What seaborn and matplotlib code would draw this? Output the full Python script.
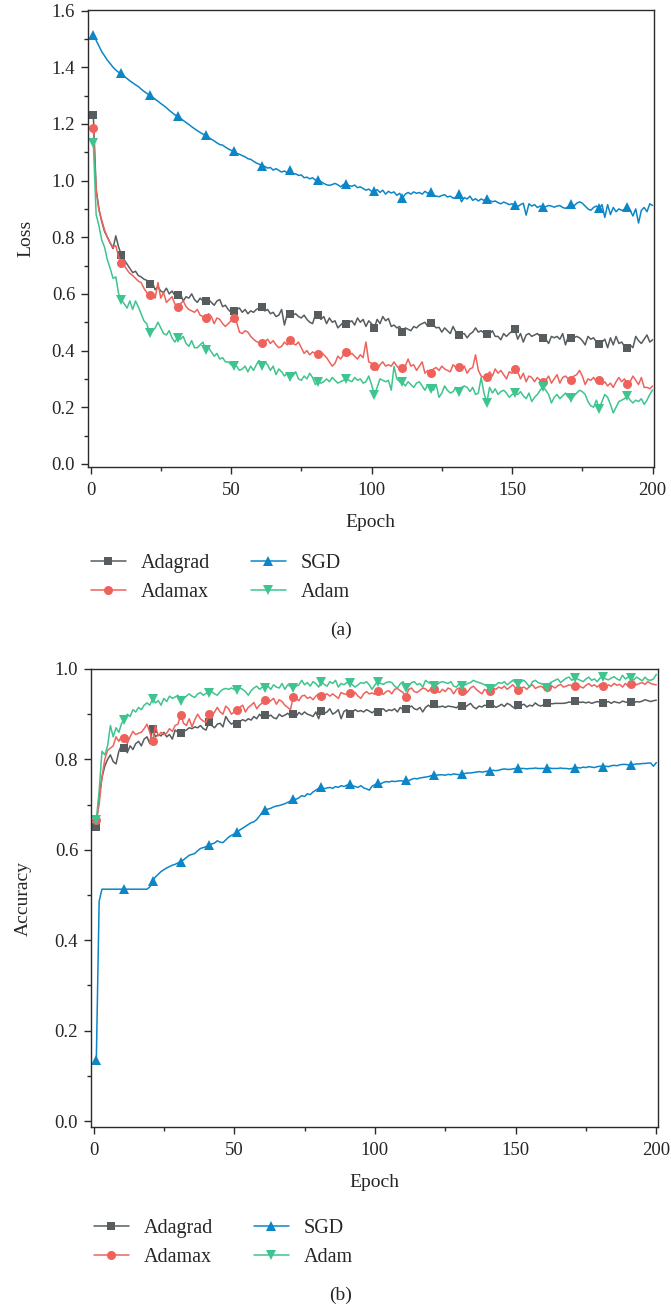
import numpy as np
import pandas as pd
import matplotlib
matplotlib.use("Agg")
import matplotlib.pyplot as plt
from matplotlib.ticker import MultipleLocator
import seaborn as sns

# ---------------------------------------------------------------- data
epochs = list(range(1, 201))
optimizers = ["Adagrad", "Adamax", "SGD", "Adam"]

loss_sgd = [
    1.515, 1.495, 1.475, 1.455, 1.44, 1.425, 1.413, 1.40, 1.39, 1.382,
    1.378, 1.368, 1.36, 1.352, 1.345, 1.338, 1.332, 1.323, 1.315, 1.308,
    1.302, 1.295, 1.287, 1.28, 1.272, 1.265, 1.257, 1.248, 1.24, 1.232,
    1.227, 1.22, 1.212, 1.205, 1.198, 1.19, 1.183, 1.176, 1.17, 1.164,
    1.16, 1.152, 1.146, 1.14, 1.133, 1.127, 1.125, 1.118, 1.112, 1.107,
    1.104, 1.096, 1.093, 1.088, 1.084, 1.077, 1.075, 1.068, 1.062, 1.058,
    1.052, 1.05, 1.044, 1.046, 1.037, 1.042, 1.036, 1.03, 1.034, 1.027,
    1.036, 1.022, 1.024, 1.018, 1.02, 1.01, 1.012, 1.006, 1.01, 1.002,
    1.003, 0.996, 0.99, 0.985, 0.983, 0.986, 0.99, 0.985, 0.978, 0.986,
    0.988, 0.982, 0.98, 0.984, 0.975, 0.978, 0.972, 0.966, 0.97, 0.962,
    0.962, 0.968, 0.958, 0.966, 0.952, 0.962, 0.956, 0.96, 0.948, 0.955,
    0.938, 0.952, 0.958, 0.952, 0.96, 0.955, 0.958, 0.952, 0.962, 0.955,
    0.958, 0.948, 0.945, 0.943, 0.947, 0.95, 0.942, 0.945, 0.938, 0.94,
    0.952, 0.925, 0.94, 0.935, 0.945, 0.93, 0.936, 0.928, 0.935, 0.93,
    0.936, 0.93, 0.925, 0.928, 0.922, 0.918, 0.924, 0.92, 0.915, 0.918,
    0.912, 0.908, 0.915, 0.92, 0.878, 0.918, 0.91, 0.915, 0.905, 0.91,
    0.905, 0.908, 0.912, 0.91, 0.906, 0.91, 0.912, 0.905, 0.902, 0.908,
    0.918, 0.91, 0.92, 0.925, 0.92, 0.91, 0.90, 0.895, 0.905, 0.91,
    0.902, 0.915, 0.87, 0.915, 0.88, 0.905, 0.89, 0.90, 0.895, 0.898,
    0.905, 0.895, 0.875, 0.90, 0.85, 0.895, 0.905, 0.89, 0.918, 0.912,
]

loss_adagrad = [
    1.232, 0.97, 0.90, 0.855, 0.82, 0.80, 0.78, 0.76, 0.805, 0.765,
    0.738, 0.72, 0.705, 0.69, 0.675, 0.68, 0.665, 0.66, 0.652, 0.648,
    0.636, 0.64, 0.615, 0.625, 0.61, 0.605, 0.62, 0.60, 0.61, 0.595,
    0.595, 0.60, 0.575, 0.59, 0.585, 0.60, 0.58, 0.57, 0.585, 0.575,
    0.575, 0.58, 0.57, 0.56, 0.575, 0.58, 0.555, 0.56, 0.545, 0.535,
    0.538, 0.545, 0.55, 0.535, 0.545, 0.53, 0.54, 0.535, 0.545, 0.55,
    0.555, 0.54, 0.545, 0.53, 0.535, 0.52, 0.525, 0.545, 0.49, 0.53,
    0.529, 0.525, 0.53, 0.52, 0.515, 0.525, 0.51, 0.50, 0.495, 0.525,
    0.526, 0.51, 0.52, 0.495, 0.515, 0.50, 0.505, 0.48, 0.49, 0.50,
    0.494, 0.50, 0.505, 0.49, 0.515, 0.50, 0.51, 0.485, 0.505, 0.495,
    0.481, 0.51, 0.495, 0.52, 0.505, 0.513, 0.485, 0.49, 0.48, 0.485,
    0.465, 0.48, 0.475, 0.47, 0.485, 0.48, 0.49, 0.495, 0.50, 0.485,
    0.497, 0.49, 0.48, 0.482, 0.465, 0.48, 0.47, 0.46, 0.485, 0.465,
    0.455, 0.458, 0.46, 0.445, 0.458, 0.465, 0.48, 0.465, 0.47, 0.462,
    0.46, 0.458, 0.47, 0.45, 0.45, 0.438, 0.46, 0.45, 0.46, 0.468,
    0.475, 0.44, 0.46, 0.43, 0.455, 0.46, 0.45, 0.455, 0.46, 0.45,
    0.444, 0.44, 0.425, 0.45, 0.445, 0.45, 0.44, 0.46, 0.42, 0.45,
    0.445, 0.445, 0.45, 0.445, 0.435, 0.42, 0.45, 0.44, 0.445, 0.43,
    0.422, 0.43, 0.44, 0.41, 0.445, 0.42, 0.45, 0.425, 0.43, 0.415,
    0.41, 0.42, 0.41, 0.45, 0.435, 0.425, 0.44, 0.455, 0.43, 0.438,
]

loss_adamax = [
    1.185, 0.965, 0.895, 0.86, 0.825, 0.80, 0.78, 0.765, 0.77, 0.73,
    0.708, 0.70, 0.685, 0.672, 0.665, 0.655, 0.645, 0.64, 0.62, 0.605,
    0.597, 0.60, 0.585, 0.64, 0.585, 0.605, 0.57, 0.58, 0.59, 0.565,
    0.552, 0.565, 0.575, 0.555, 0.545, 0.54, 0.535, 0.545, 0.525, 0.52,
    0.514, 0.53, 0.52, 0.495, 0.515, 0.51, 0.495, 0.485, 0.495, 0.505,
    0.514, 0.50, 0.465, 0.46, 0.47, 0.465, 0.45, 0.44, 0.432, 0.428,
    0.425, 0.43, 0.44, 0.425, 0.435, 0.42, 0.41, 0.415, 0.43, 0.42,
    0.437, 0.425, 0.42, 0.43, 0.41, 0.39, 0.40, 0.385, 0.395, 0.39,
    0.387, 0.395, 0.385, 0.375, 0.36, 0.345, 0.355, 0.38, 0.37, 0.385,
    0.394, 0.385, 0.39, 0.38, 0.37, 0.385, 0.375, 0.43, 0.36, 0.355,
    0.345, 0.33, 0.35, 0.36, 0.345, 0.35, 0.345, 0.36, 0.345, 0.335,
    0.34, 0.345, 0.37, 0.345, 0.35, 0.33, 0.345, 0.36, 0.32, 0.33,
    0.321, 0.335, 0.34, 0.33, 0.345, 0.335, 0.33, 0.325, 0.35, 0.34,
    0.342, 0.33, 0.345, 0.32, 0.335, 0.34, 0.385, 0.33, 0.31, 0.305,
    0.307, 0.325, 0.31, 0.335, 0.32, 0.33, 0.315, 0.30, 0.325, 0.32,
    0.334, 0.325, 0.30, 0.32, 0.29, 0.31, 0.305, 0.29, 0.305, 0.295,
    0.29, 0.295, 0.31, 0.285, 0.30, 0.315, 0.285, 0.305, 0.31, 0.30,
    0.297, 0.31, 0.315, 0.33, 0.31, 0.28, 0.30, 0.295, 0.305, 0.29,
    0.297, 0.28, 0.29, 0.275, 0.285, 0.27, 0.29, 0.305, 0.29, 0.30,
    0.281, 0.29, 0.31, 0.295, 0.28, 0.305, 0.27, 0.27, 0.265, 0.275,
]

loss_adam = [
    1.134, 0.88, 0.84, 0.79, 0.765, 0.72, 0.69, 0.655, 0.66, 0.60,
    0.579, 0.565, 0.55, 0.575, 0.545, 0.575, 0.555, 0.53, 0.505, 0.495,
    0.461, 0.47, 0.48, 0.50, 0.48, 0.46, 0.455, 0.47, 0.445, 0.43,
    0.446, 0.44, 0.45, 0.425, 0.415, 0.435, 0.41, 0.41, 0.42, 0.43,
    0.402, 0.41, 0.395, 0.38, 0.39, 0.37, 0.375, 0.36, 0.36, 0.35,
    0.347, 0.345, 0.33, 0.335, 0.345, 0.325, 0.345, 0.33, 0.35, 0.365,
    0.344, 0.36, 0.35, 0.33, 0.345, 0.315, 0.335, 0.325, 0.31, 0.32,
    0.305, 0.31, 0.325, 0.30, 0.295, 0.31, 0.30, 0.32, 0.305, 0.28,
    0.29, 0.285, 0.29, 0.30, 0.29, 0.305, 0.295, 0.285, 0.29, 0.295,
    0.30, 0.295, 0.29, 0.305, 0.295, 0.30, 0.285, 0.29, 0.31, 0.28,
    0.244, 0.27, 0.30, 0.295, 0.29, 0.295, 0.26, 0.344, 0.30, 0.29,
    0.288, 0.275, 0.29, 0.28, 0.27, 0.285, 0.29, 0.275, 0.26, 0.28,
    0.266, 0.26, 0.28, 0.235, 0.25, 0.275, 0.26, 0.25, 0.255, 0.27,
    0.252, 0.27, 0.275, 0.27, 0.255, 0.27, 0.245, 0.25, 0.305, 0.25,
    0.216, 0.27, 0.25, 0.265, 0.245, 0.255, 0.26, 0.25, 0.235, 0.245,
    0.25, 0.245, 0.255, 0.24, 0.23, 0.25, 0.22, 0.235, 0.245, 0.26,
    0.273, 0.26, 0.245, 0.215, 0.235, 0.245, 0.23, 0.24, 0.25, 0.235,
    0.232, 0.24, 0.25, 0.26, 0.255, 0.245, 0.22, 0.205, 0.20, 0.225,
    0.195, 0.22, 0.245, 0.235, 0.21, 0.18, 0.20, 0.22, 0.225, 0.23,
    0.24, 0.225, 0.215, 0.225, 0.22, 0.23, 0.21, 0.225, 0.245, 0.261,
]

acc_sgd = [
    0.135, 0.486, 0.513, 0.513, 0.513, 0.513, 0.513, 0.513, 0.513, 0.513,
    0.513, 0.513, 0.513, 0.513, 0.513, 0.513, 0.513, 0.513, 0.513, 0.518,
    0.532, 0.54, 0.546, 0.552, 0.556, 0.56, 0.563, 0.566, 0.568, 0.571,
    0.574, 0.578, 0.583, 0.588, 0.59, 0.592, 0.598, 0.603, 0.605, 0.607,
    0.61, 0.613, 0.615, 0.62, 0.617, 0.616, 0.622, 0.628, 0.632, 0.635,
    0.639, 0.644, 0.648, 0.652, 0.656, 0.66, 0.662, 0.667, 0.675, 0.683,
    0.689, 0.69, 0.692, 0.695, 0.697, 0.698, 0.70, 0.702, 0.705, 0.708,
    0.713, 0.712, 0.715, 0.72, 0.718, 0.724, 0.722, 0.728, 0.732, 0.736,
    0.74, 0.735, 0.737, 0.738, 0.736, 0.74, 0.738, 0.742, 0.74, 0.743,
    0.745, 0.742, 0.74, 0.738, 0.742, 0.737, 0.735, 0.732, 0.741, 0.744,
    0.748, 0.746, 0.749, 0.751, 0.75, 0.752, 0.751, 0.752, 0.753, 0.752,
    0.754, 0.753, 0.756, 0.758, 0.757, 0.759, 0.76, 0.761, 0.762, 0.764,
    0.766, 0.765, 0.766, 0.766, 0.765, 0.767, 0.766, 0.768, 0.767, 0.766,
    0.767, 0.769, 0.77, 0.77, 0.771, 0.772, 0.773, 0.772, 0.773, 0.774,
    0.774, 0.776, 0.775, 0.776, 0.778, 0.779, 0.778, 0.778, 0.779, 0.78,
    0.78, 0.78, 0.78, 0.779, 0.78, 0.78, 0.781, 0.78, 0.78, 0.78,
    0.78, 0.781, 0.78, 0.78, 0.78, 0.781, 0.78, 0.78, 0.779, 0.78,
    0.781, 0.782, 0.781, 0.783, 0.782, 0.784, 0.783, 0.782, 0.784, 0.785,
    0.784, 0.785, 0.784, 0.786, 0.787, 0.786, 0.788, 0.789, 0.789, 0.788,
    0.788, 0.789, 0.79, 0.79, 0.791, 0.791, 0.792, 0.792, 0.785, 0.793,
]

acc_adagrad = [
    0.65, 0.72, 0.76, 0.785, 0.80, 0.81, 0.795, 0.79, 0.818, 0.832,
    0.825, 0.815, 0.83, 0.822, 0.835, 0.84, 0.83, 0.845, 0.85, 0.835,
    0.868, 0.85, 0.855, 0.852, 0.86, 0.85, 0.855, 0.845, 0.865, 0.86,
    0.858, 0.862, 0.865, 0.87, 0.868, 0.872, 0.87, 0.875, 0.868, 0.865,
    0.882, 0.875, 0.87, 0.878, 0.88, 0.872, 0.895, 0.885, 0.878, 0.882,
    0.879, 0.884, 0.888, 0.885, 0.89, 0.887, 0.895, 0.89, 0.90, 0.893,
    0.899, 0.895, 0.898, 0.892, 0.89, 0.90, 0.895, 0.898, 0.902, 0.896,
    0.901, 0.895, 0.904, 0.899, 0.905, 0.90, 0.898, 0.895, 0.905, 0.89,
    0.908, 0.902, 0.905, 0.912, 0.90, 0.904, 0.91, 0.89, 0.906, 0.91,
    0.90, 0.905, 0.91, 0.906, 0.908, 0.905, 0.91, 0.907, 0.903, 0.908,
    0.904, 0.91, 0.912, 0.906, 0.91, 0.908, 0.912, 0.905, 0.915, 0.91,
    0.912, 0.915, 0.918, 0.912, 0.91, 0.915, 0.905, 0.915, 0.92, 0.915,
    0.922, 0.918, 0.916, 0.918, 0.915, 0.918, 0.917, 0.916, 0.914, 0.92,
    0.918, 0.915, 0.92, 0.924, 0.916, 0.912, 0.918, 0.916, 0.92, 0.918,
    0.923, 0.92, 0.915, 0.918, 0.922, 0.917, 0.924, 0.921, 0.916, 0.912,
    0.921, 0.92, 0.922, 0.916, 0.92, 0.918, 0.925, 0.92, 0.918, 0.921,
    0.925, 0.924, 0.923, 0.924, 0.924, 0.924, 0.924, 0.925, 0.927, 0.926,
    0.929, 0.928, 0.926, 0.927, 0.925, 0.927, 0.924, 0.926, 0.928, 0.926,
    0.925, 0.926, 0.928, 0.924, 0.928, 0.926, 0.925, 0.929, 0.927, 0.926,
    0.926, 0.925, 0.928, 0.927, 0.929, 0.932, 0.93, 0.928, 0.93, 0.931,
]

acc_adamax = [
    0.667, 0.70, 0.76, 0.80, 0.82, 0.825, 0.83, 0.85, 0.84, 0.852,
    0.848, 0.835, 0.85, 0.862, 0.855, 0.858, 0.86, 0.868, 0.878, 0.86,
    0.84, 0.875, 0.852, 0.86, 0.855, 0.858, 0.868, 0.862, 0.875, 0.878,
    0.899, 0.88, 0.875, 0.89, 0.872, 0.888, 0.90, 0.89, 0.885, 0.882,
    0.901, 0.895, 0.905, 0.915, 0.905, 0.90, 0.918, 0.912, 0.90, 0.905,
    0.909, 0.915, 0.92, 0.905, 0.915, 0.92, 0.926, 0.912, 0.92, 0.925,
    0.932, 0.925, 0.93, 0.935, 0.922, 0.932, 0.928, 0.92, 0.915, 0.91,
    0.939, 0.935, 0.93, 0.94, 0.942, 0.935, 0.938, 0.932, 0.94, 0.945,
    0.94, 0.942, 0.945, 0.94, 0.945, 0.94, 0.935, 0.948, 0.945, 0.944,
    0.946, 0.943, 0.948, 0.94, 0.935, 0.945, 0.95, 0.945, 0.947, 0.944,
    0.951, 0.948, 0.944, 0.95, 0.952, 0.945, 0.955, 0.957, 0.952, 0.948,
    0.938, 0.955, 0.958, 0.95, 0.948, 0.953, 0.958, 0.956, 0.95, 0.958,
    0.956, 0.952, 0.948, 0.955, 0.95, 0.958, 0.955, 0.945, 0.955, 0.958,
    0.952, 0.945, 0.95, 0.958, 0.962, 0.955, 0.95, 0.945, 0.955, 0.95,
    0.952, 0.958, 0.955, 0.96, 0.957, 0.962, 0.955, 0.96, 0.965, 0.958,
    0.953, 0.958, 0.96, 0.955, 0.962, 0.965, 0.957, 0.96, 0.962, 0.958,
    0.96, 0.965, 0.962, 0.958, 0.963, 0.966, 0.96, 0.962, 0.965, 0.963,
    0.963, 0.966, 0.961, 0.958, 0.964, 0.968, 0.962, 0.965, 0.96, 0.966,
    0.963, 0.958, 0.965, 0.962, 0.968, 0.964, 0.966, 0.96, 0.968, 0.962,
    0.966, 0.97, 0.965, 0.968, 0.97, 0.966, 0.972, 0.968, 0.966, 0.965,
]

acc_adam = [
    0.667, 0.73, 0.818, 0.81, 0.83, 0.875, 0.85, 0.87, 0.86, 0.88,
    0.888, 0.90, 0.895, 0.91, 0.905, 0.915, 0.91, 0.92, 0.925, 0.92,
    0.934, 0.925, 0.93, 0.92, 0.935, 0.928, 0.94, 0.935, 0.938, 0.942,
    0.93, 0.935, 0.94, 0.945, 0.94, 0.937, 0.945, 0.948, 0.942, 0.946,
    0.947, 0.95, 0.945, 0.942, 0.95, 0.955, 0.957, 0.955, 0.958, 0.955,
    0.953, 0.958, 0.955, 0.95, 0.942, 0.952, 0.958, 0.962, 0.955, 0.96,
    0.958, 0.962, 0.955, 0.965, 0.96, 0.958, 0.968, 0.955, 0.965, 0.962,
    0.958, 0.962, 0.965, 0.975, 0.965, 0.97, 0.962, 0.972, 0.968, 0.96,
    0.971, 0.966, 0.962, 0.972, 0.968, 0.975, 0.96, 0.968, 0.965, 0.97,
    0.969, 0.965, 0.96, 0.965, 0.97, 0.968, 0.972, 0.965, 0.955, 0.965,
    0.972, 0.968, 0.966, 0.97, 0.972, 0.97, 0.962, 0.958, 0.967, 0.972,
    0.958, 0.962, 0.97, 0.972, 0.965, 0.968, 0.96, 0.975, 0.97, 0.968,
    0.963, 0.965, 0.97, 0.972, 0.97, 0.968, 0.972, 0.962, 0.96, 0.968,
    0.963, 0.965, 0.968, 0.97, 0.975, 0.972, 0.97, 0.968, 0.965, 0.962,
    0.955, 0.96, 0.965, 0.97, 0.968, 0.972, 0.965, 0.97, 0.975, 0.97,
    0.967, 0.972, 0.975, 0.968, 0.96, 0.972, 0.975, 0.97, 0.968, 0.965,
    0.957, 0.968, 0.972, 0.975, 0.978, 0.97, 0.975, 0.98, 0.982, 0.975,
    0.98, 0.978, 0.975, 0.972, 0.978, 0.982, 0.975, 0.978, 0.972, 0.98,
    0.982, 0.978, 0.976, 0.98, 0.983, 0.978, 0.975, 0.986, 0.978, 0.982,
    0.98, 0.976, 0.982, 0.978, 0.974, 0.982, 0.976, 0.975, 0.978, 0.988,
]

loss_series = {"Adagrad": loss_adagrad, "Adamax": loss_adamax,
               "SGD": loss_sgd, "Adam": loss_adam}
acc_series = {"Adagrad": acc_adagrad, "Adamax": acc_adamax,
              "SGD": acc_sgd, "Adam": acc_adam}

# ---------------------------------------------------------------- style
sns.set_style("ticks")
plt.rcParams["font.family"] = ["Liberation Serif", "DejaVu Serif"]
plt.rcParams["axes.edgecolor"] = "#2b2b2b"
plt.rcParams["axes.linewidth"] = 1.0

palette = {"Adagrad": "#575c5f", "Adamax": "#ef625c",
           "SGD": "#0c86c7", "Adam": "#3ec48e"}
marker_map = {"Adagrad": "s", "Adamax": "o", "SGD": "^", "Adam": "v"}
marker_size = {"Adagrad": 5.5, "Adamax": 6.5, "SGD": 7.5, "Adam": 7.5}

W, H = 671, 1309
fig = plt.figure(figsize=(W / 100, H / 100), dpi=100)


def fig_rect(left, top, right, bottom):
    return [left / W, 1 - bottom / H, (right - left) / W, (bottom - top) / H]


def to_long(series):
    frames = [pd.DataFrame({"Epoch": epochs, "value": series[name],
                            "Optimizer": name}) for name in optimizers]
    return pd.concat(frames, ignore_index=True)


def draw_panel(ax, series, ylabel, ylim, ymajor, ylabel_x, legend_y, tag, tag_y):
    df = to_long(series)
    sns.lineplot(data=df, x="Epoch", y="value", hue="Optimizer",
                 style="Optimizer", hue_order=optimizers,
                 style_order=optimizers, palette=palette,
                 markers=marker_map, dashes=False, estimator=None,
                 sort=False, legend=False, ax=ax,
                 linewidth=1.1, markersize=6, markeredgewidth=0,
                 markevery=10)
    handles = ax.get_lines()[:len(optimizers)]
    for line, name in zip(handles, optimizers):
        line.set_markersize(marker_size[name])

    ax.set_xlim(-1, 200.5)
    ax.set_ylim(*ylim)
    ax.xaxis.set_major_locator(MultipleLocator(50))
    ax.xaxis.set_minor_locator(MultipleLocator(25))
    ax.yaxis.set_major_locator(MultipleLocator(ymajor))
    ax.yaxis.set_minor_locator(MultipleLocator(ymajor / 2))
    ax.tick_params(axis="both", which="major", direction="out", length=5,
                   width=1.0, labelsize=13.5, color="#2b2b2b")
    ax.tick_params(axis="x", which="major", pad=6)
    ax.tick_params(axis="y", which="major", pad=4)
    ax.tick_params(axis="both", which="minor", direction="out", length=3,
                   width=1.0, color="#2b2b2b")
    ax.yaxis.set_major_formatter(plt.FormatStrFormatter("%.1f"))
    ax.set_xlabel("Epoch", fontsize=14)
    ax.set_ylabel(ylabel, fontsize=14)
    ax.xaxis.set_label_coords(0.5, -0.102)
    ax.yaxis.set_label_coords(ylabel_x, 0.5)
    for side in ["top", "right", "left", "bottom"]:
        ax.spines[side].set_visible(True)

    fig.legend(handles, optimizers, ncol=2, frameon=False,
               loc="center left",
               bbox_to_anchor=(ax.get_position().x0 + 3 / W, 1 - legend_y / H),
               borderpad=0, borderaxespad=0, handlelength=1.75,
               handletextpad=0.75, columnspacing=2.0, labelspacing=0.5,
               fontsize=14.5)
    fig.text(341 / W, 1 - tag_y / H, tag, ha="center", va="center",
             fontsize=14)


ax_a = fig.add_axes(fig_rect(87.7, 10, 654, 467))
ax_b = fig.add_axes(fig_rect(90.7, 669, 657.7, 1127))

draw_panel(ax_a, loss_series, "Loss", (-0.011, 1.602), 0.2, -0.094,
           578, "(a)", 630)
draw_panel(ax_b, acc_series, "Accuracy", (-0.013, 1.0), 0.2, -0.104,
           1243, "(b)", 1295)

fig.savefig("out.png", dpi=100)
